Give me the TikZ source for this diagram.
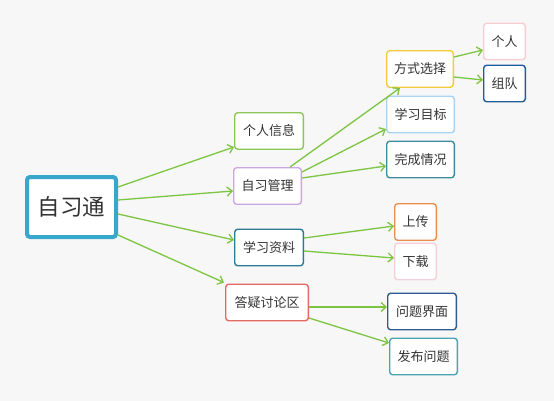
\documentclass[tikz,border=0pt]{standalone}
\usepackage{fontspec}
\newfontfamily\cjk{Noto Sans CJK SC}
\usetikzlibrary{arrows.meta}
\definecolor{bg}{HTML}{F7F7F7}
\definecolor{arr}{HTML}{7CC540}
\definecolor{txt}{HTML}{333333}
\definecolor{cRoot}{HTML}{37A7CB}
\definecolor{cInfo}{HTML}{8CC65A}
\definecolor{cMgmt}{HTML}{CBA6E3}
\definecolor{cRes}{HTML}{2B7A98}
\definecolor{cQA}{HTML}{E26A62}
\definecolor{cMode}{HTML}{F2CB3A}
\definecolor{cSolo}{HTML}{F7CDD2}
\definecolor{cTeam}{HTML}{1F5C9E}
\definecolor{cGoal}{HTML}{A9D3F0}
\definecolor{cDone}{HTML}{3D8C9C}
\definecolor{cUp}{HTML}{E98E4B}
\definecolor{cDown}{HTML}{F6CFD8}
\definecolor{cQv}{HTML}{2C5C93}
\definecolor{cQp}{HTML}{4BA3B3}
\begin{document}
\begin{tikzpicture}[x=1pt,y=-1pt,
  box/.style={draw, fill=white, rounded corners=3pt, line width=1.4pt, text=txt,
    font=\cjk\fontsize{13}{15}\selectfont, inner sep=0pt, minimum height=36.5pt},
  rootbox/.style={draw=cRoot, fill=white, rounded corners=3pt, line width=4pt, text=txt,
    font=\cjk\fontsize{22.5}{26}\selectfont, inner sep=0pt, minimum width=89pt, minimum height=60pt},
  link/.style={draw=arr, line width=1.3pt, -{Straight Barb[length=5pt,width=9pt,line width=1.3pt]}}]
\fill[bg] (0,0) rectangle (554,401);
\useasboundingbox (0,0) rectangle (554,401);

\node[rootbox] (root) at (71.5,207) {自习通};
\node[box, draw=cInfo, minimum width=68.6pt] (info) at (269,131) {个人信息};
\node[box, draw=cMgmt, minimum width=67.6pt] (mgmt) at (267.5,186) {自习管理};
\node[box, draw=cRes, minimum width=68.6pt] (res) at (269,247.5) {学习资料};
\node[box, draw=cQA, minimum width=82.6pt] (qa) at (267,302.5) {答疑讨论区};
\node[box, draw=cMode, minimum width=66.6pt] (mode) at (420,69) {方式选择};
\node[box, draw=cSolo, minimum width=41.6pt] (solo) at (504.5,41.5) {个人};
\node[box, draw=cTeam, minimum width=41.6pt] (team) at (504.5,83.5) {组队};
\node[box, draw=cGoal, minimum width=67.6pt] (goal) at (420.5,114.5) {学习目标};
\node[box, draw=cDone, minimum width=67.6pt] (done) at (420.5,159.5) {完成情况};
\node[box, draw=cUp, minimum width=41.6pt] (up) at (415.5,222) {上传};
\node[box, draw=cDown, minimum width=41.6pt] (down) at (415.5,261.5) {下载};
\node[box, draw=cQv, minimum width=68.6pt] (qv) at (422,311.5) {问题界面};
\node[box, draw=cQp, minimum width=67.6pt] (qp) at (423.5,356.5) {发布问题};

\draw[link] ([yshift=20pt]root.east) -- ([yshift=-16pt]info.west);
\draw[link] ([yshift=7pt]root.east) -- ([yshift=-5pt]mgmt.west);
\draw[link] ([yshift=-7pt]root.east) -- ([yshift=7.5pt]res.west);
\draw[link] ([yshift=-28pt]root.east) -- ([xshift=-1pt,yshift=1pt]qa.north west);

\draw[link] ([xshift=22.5pt]mgmt.north) -- ([xshift=-20pt]mode.south);
\draw[link] ([yshift=14pt]mgmt.east) -- ([yshift=-14.5pt]goal.west);
\draw[link] ([yshift=8pt]mgmt.east) -- ([yshift=-6.5pt]done.west);

\draw[link] ([yshift=12pt]mode.east) -- ([yshift=-8.5pt]solo.west);
\draw[link] ([yshift=-8pt]mode.east) -- ([yshift=3.5pt]team.west);

\draw[link] ([yshift=9.5pt]res.east) -- ([yshift=-4pt]up.west);
\draw[link] ([yshift=-3.5pt]res.east) -- ([yshift=3.5pt]down.west);

\draw[link] ([yshift=-4.5pt]qa.east) -- ([yshift=4.5pt]qv.west);
\draw[link] ([yshift=-15.5pt]qa.east) -- ([yshift=13.5pt]qp.west);
\end{tikzpicture}
\end{document}
